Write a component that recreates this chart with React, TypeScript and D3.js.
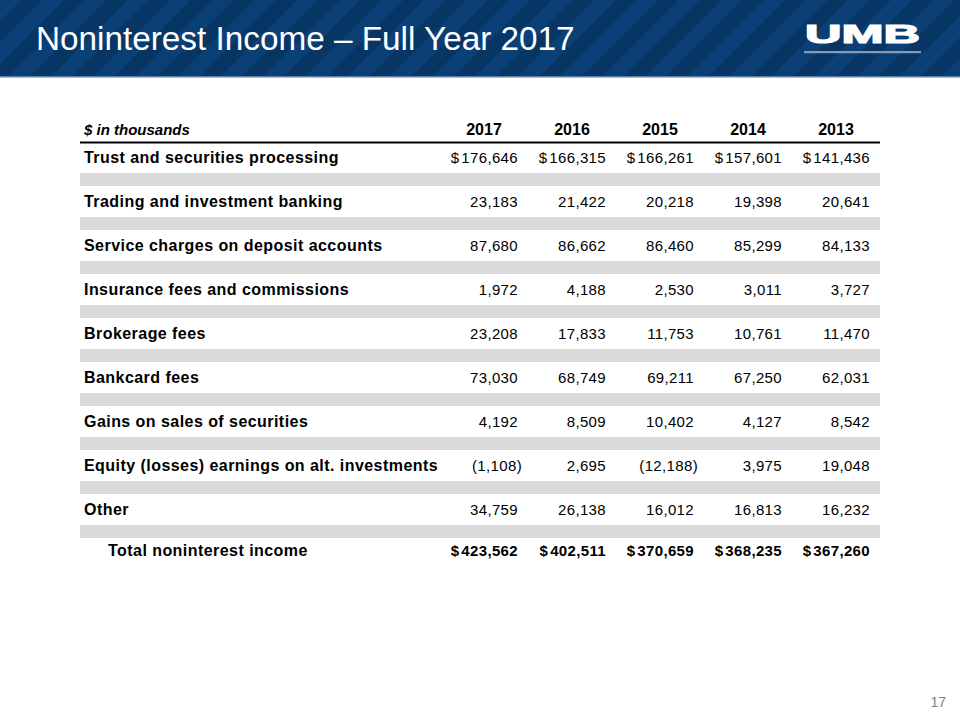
import React from "react";
import * as d3 from "d3";

const title = "Noninterest Income – Full Year 2017";
const unitLabel = "$ in thousands";
const years = ["2017", "2016", "2015", "2014", "2013"];
const categories = [
  "Trust and securities processing",
  "Trading and investment banking",
  "Service charges on deposit accounts",
  "Insurance fees and commissions",
  "Brokerage fees",
  "Bankcard fees",
  "Gains on sales of securities",
  "Equity (losses) earnings on alt. investments",
  "Other",
];
const values2017 = [176646, 23183, 87680, 1972, 23208, 73030, 4192, -1108, 34759];
const values2016 = [166315, 21422, 86662, 4188, 17833, 68749, 8509, 2695, 26138];
const values2015 = [166261, 20218, 86460, 2530, 11753, 69211, 10402, -12188, 16012];
const values2014 = [157601, 19398, 85299, 3011, 10761, 67250, 4127, 3975, 16813];
const values2013 = [141436, 20641, 84133, 3727, 11470, 62031, 8542, 19048, 16232];
const totalLabel = "Total noninterest income";
const totals = [423562, 402511, 370659, 368235, 367260];
const pageNumber = "17";

const series = [values2017, values2016, values2015, values2014, values2013];

const FONT = "Arial, 'Liberation Sans', Helvetica, sans-serif";
const fmt = d3.format(",");

function Value({ x, y, v, dollar, bold }: { x: number; y: number; v: number; dollar: boolean; bold?: boolean }) {
  const neg = v < 0;
  const body = neg ? `(${fmt(-v)})` : fmt(v);
  return (
    <text
      x={neg ? x + 4 : x}
      y={y}
      textAnchor="end"
      fontFamily={FONT}
      fontSize={15}
      fontWeight={bold ? "bold" : "normal"}
      letterSpacing={0.35}
      fill="#000"
    >
      {dollar ? (
        <>
          <tspan>$</tspan>
          <tspan dx={2}>{body}</tspan>
        </>
      ) : (
        body
      )}
    </text>
  );
}

export default function App() {
  const W = 960;
  const H = 720;
  const colRight = d3.scalePoint<string>().domain(years).range([518, 870]);
  const rowY = d3.scaleLinear().domain([0, categories.length - 1]).range([163, 515]);
  const rowStep = rowY(1) - rowY(0);
  const totalY = rowY(categories.length - 1) + rowStep - 3;
  const tableLeft = 80;
  const tableRight = 880;

  return (
    <svg
      width={W}
      height={H}
      viewBox={`0 0 ${W} ${H}`}
      style={{ position: "absolute", left: 0, top: 0, background: "#fff" }}
    >
      <defs>
        <pattern
          id="stripes"
          patternUnits="userSpaceOnUse"
          width={30}
          height={30}
          patternTransform="rotate(45)"
        >
          <rect x={0} y={0} width={30} height={30} fill="#073564" />
          <rect x={0} y={0} width={15} height={30} fill="#0b4076" />
        </pattern>
      </defs>
      <rect x={0} y={0} width={W} height={H} fill="#fff" />
      {/* Header band */}
      <rect x={0} y={0} width={W} height={77} fill="url(#stripes)" />
      <rect x={0} y={76} width={W} height={1.5} fill="#5a7ea6" />
      <text x={36} y={50} fontFamily={FONT} fontSize={33.3} fill="#fff">
        {title}
      </text>
      {/* Logo */}
      <text
        x={805}
        y={42.5}
        fontFamily={FONT}
        fontSize={25}
        fontWeight={900}
        fill="#fff"
        stroke="#fff"
        strokeWidth={1.2}
        textLength={115}
        lengthAdjust="spacingAndGlyphs"
      >
        UMB
      </text>
      <rect x={804} y={51} width={117} height={2.2} fill="#8a9ab0" />

      {/* Table header */}
      <text x={84} y={135} fontFamily={FONT} fontSize={15} fontWeight="bold" fontStyle="italic" fill="#000">
        {unitLabel}
      </text>
      {years.map((yr) => (
        <text
          key={yr}
          x={(colRight(yr) as number) - 34}
          y={135}
          textAnchor="middle"
          fontFamily={FONT}
          fontSize={16}
          fontWeight="bold"
          fill="#000"
        >
          {yr}
        </text>
      ))}
      <rect x={tableLeft} y={141.5} width={tableRight - tableLeft} height={2} fill="#000" />

      {/* Separator bands */}
      {categories.map((c, i) => (
        <rect
          key={"band" + c}
          x={tableLeft}
          y={rowY(i) + 10}
          width={tableRight - tableLeft}
          height={13}
          fill="#d9d9d9"
        />
      ))}

      {/* Rows */}
      {categories.map((c, i) => (
        <g key={c}>
          <text x={84} y={rowY(i)} fontFamily={FONT} fontSize={16} fontWeight="bold" letterSpacing={0.45} fill="#000">
            {c}
          </text>
          {years.map((yr, j) => (
            <Value key={yr} x={colRight(yr) as number} y={rowY(i)} v={series[j][i]} dollar={i === 0} />
          ))}
        </g>
      ))}

      {/* Total */}
      <text x={108} y={totalY} fontFamily={FONT} fontSize={16} fontWeight="bold" letterSpacing={0.45} fill="#000">
        {totalLabel}
      </text>
      {years.map((yr, j) => (
        <Value key={yr} x={colRight(yr) as number} y={totalY} v={totals[j]} dollar bold />
      ))}

      <text x={946} y={707} textAnchor="end" fontFamily={FONT} fontSize={14} fill="#7f7f7f">
        {pageNumber}
      </text>
    </svg>
  );
}
